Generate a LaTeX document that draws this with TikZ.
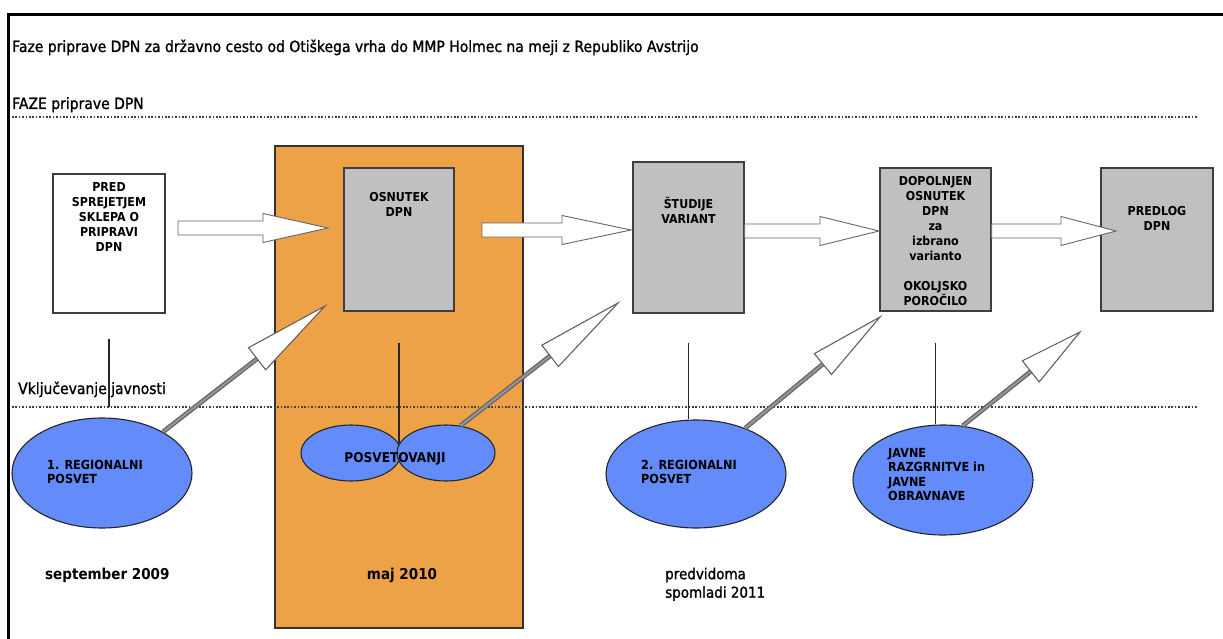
\documentclass[tikz,border=0pt]{standalone}
\usepackage{fontspec}
\setmainfont{DejaVu Sans}[FakeStretch=0.9]
\newfontfamily\mediumfont{DejaVu Sans}[FakeStretch=0.9, FakeBold=1.2]
\usetikzlibrary{calc,shapes.geometric}

\definecolor{phaseorange}{RGB}{238,162,72}
\definecolor{boxgray}{RGB}{192,192,192}
\definecolor{meetblue}{RGB}{99,139,250}
\definecolor{edgegray}{RGB}{62,62,62}

% fixed height for the first line of a label, so accents do not move it
\newcommand\firstline{\rule{0pt}{12pt}}

% horizontal block arrow: start, tip, head length
\newcommand\blockarrow[3]{%
  \draw[blockarr] let \p1=(#1), \p2=(#2) in
    (\x1,\y2+7pt) -- (\x2-#3,\y2+7pt) -- (\x2-#3,\y2+14.5pt) -- (\x2,\y2)
    -- (\x2-#3,\y2-14.5pt) -- (\x2-#3,\y2-7pt) -- (\x1,\y2-7pt) -- cycle;}

% slanted arrow: start, tip, head length, half width of head
\newcommand\diagarrow[4]{%
  \coordinate (hb) at ($(#2)!#3!(#1)$);
  \draw[shaftedge] (#1) -- (hb);
  \draw[shaftcore] (#1) -- (hb);
  \draw[diaghead] (#2) -- ($(hb)!#4!90:(#2)$) -- ($(hb)!#4!-90:(#2)$) -- cycle;}

\begin{document}
\begin{tikzpicture}[x=1pt,y=-1pt,
  phasebox/.style={rectangle, draw=edgegray, line width=1.4pt, fill=boxgray, inner sep=0pt},
  meet/.style={ellipse, draw=black!85, line width=1.1pt, fill=meetblue, inner sep=0pt},
  boxlabel/.style={font=\bfseries\fontsize{12.3}{15}\selectfont, align=center, inner sep=0pt, anchor=north},
  meetlabel/.style={font=\bfseries\fontsize{12.5}{14.5}\selectfont, align=left, inner sep=0pt, anchor=north west},
  datelabel/.style={font=\bfseries\fontsize{15}{18.5}\selectfont, inner sep=0pt},
  plainlabel/.style={font=\mediumfont\fontsize{15.5}{18}\selectfont, inner sep=0pt, anchor=base west},
  link/.style={draw=black!85, line width=1.1pt},
  sepline/.style={draw=black!75, line width=1.4pt, dash pattern=on 1.6pt off 1.8pt},
  blockarr/.style={draw=black!60, line width=0.9pt, fill=white, line join=miter},
  shaftedge/.style={draw=black!62, line width=4.6pt},
  shaftcore/.style={draw=black!42, line width=2.2pt},
  diaghead/.style={draw=black!62, line width=1.1pt, fill=white, line join=miter}]

\useasboundingbox (0,0) rectangle (1223,639);
\fill[white] (0,0) rectangle (1223,639);

% frame
\draw[line width=3pt, line join=miter] (1223,15) -- (8.5,15) -- (8.5,639);

% headings
\node[plainlabel] (title) at (12,52)
  {Faze priprave DPN za državno cesto od Otiškega vrha do MMP Holmec na meji z Republiko Avstrijo};
\node[plainlabel] (phases) at (12,109) {FAZE priprave DPN};
\node[plainlabel] (public) at (18,394) {Vključevanje javnosti};

% phase band of May 2010
\node[rectangle, draw=black!80, line width=1.2pt, fill=phaseorange,
      minimum width=248, minimum height=482, inner sep=0pt] (band) at (399,387) {};

% separators
\coordinate (sep1a) at (12,117);  \coordinate (sep1b) at (1198,117);
\coordinate (sep2a) at (12,407);  \coordinate (sep2b) at (1198,407);
\draw[sepline] (sep1a) -- (sep1b);
\draw[sepline] (sep2a) -- (sep2b);

% phase boxes
\node[phasebox, fill=white, minimum width=112, minimum height=139] (pred) at (109,243.5) {};
\node[phasebox, minimum width=110, minimum height=143] (osn) at (399,239.5) {};
\node[phasebox, minimum width=111, minimum height=151] (stud) at (688.5,237.5) {};
\node[phasebox, minimum width=111, minimum height=143] (dop) at (935.5,239.5) {};
\node[phasebox, minimum width=112, minimum height=143] (predl) at (1157,239.5) {};

% meetings
\node[meet, minimum width=180, minimum height=110] (e1) at (102,473) {};
\node[meet, minimum width=100, minimum height=56] (pl) at (351,453) {};
\node[meet, minimum width=98, minimum height=56] (pr) at (446,453) {};
\node[meet, minimum width=180, minimum height=108] (e2) at (696,474) {};
\node[meet, minimum width=180, minimum height=110] (e3) at (943,480) {};

% links from phases down to the public part
\coordinate (pj) at (399,443);
\draw[link] ([yshift=-25pt]pred.south) -- (pred.south |- sep2a);
\draw[link] ([yshift=-31pt]osn.south) -- (pj);
\draw[link] ([yshift=-29pt]stud.south) -- (stud.south |- e2.north);
\draw[link] ([yshift=-31pt]dop.south) -- (dop.south |- e3.north);

% flow between phases
\coordinate (a1s) at (178,228);  \coordinate (a1t) at (328,228);
\coordinate (a2s) at (482,230);  \coordinate (a2t) at (631,230);
\coordinate (a3t) at (879,231);
\coordinate (a4t) at (1116,231);
\blockarrow{a1s}{a1t}{65pt}
\blockarrow{a2s}{a2t}{69pt}
\blockarrow{stud.east |- a3t}{a3t}{59pt}
\blockarrow{dop.east |- a4t}{a4t}{55pt}

% input of the public
\coordinate (d1t) at (325,306);
\coordinate (d2t) at (618,303);
\coordinate (d3t) at (880,317);
\coordinate (d4t) at (1080,332);
\diagarrow{e1.34}{d1t}{86pt}{14pt}
\diagarrow{pr.62}{d2t}{86pt}{13.5pt}
\diagarrow{e2.43}{d3t}{74pt}{13.5pt}
\diagarrow{e3.70}{d4t}{63pt}{13.5pt}

% phase labels
\node[boxlabel] at ([yshift=-6pt]pred.north) {\firstline PRED\\SPREJETJEM\\SKLEPA O\\PRIPRAVI\\DPN};
\node[boxlabel] at ([yshift=-22pt]osn.north) {\firstline OSNUTEK\\DPN};
\node[boxlabel] at ([yshift=-35pt]stud.north) {\firstline ŠTUDIJE\\VARIANT};
\node[boxlabel] at ([yshift=-6pt]dop.north)
  {\firstline DOPOLNJEN\\OSNUTEK\\DPN\\za\\izbrano\\varianto\\[15pt]OKOLJSKO\\POROČILO};
\node[boxlabel] at ([yshift=-36pt]predl.north) {\firstline PREDLOG\\DPN};

% meeting labels
\node[meetlabel] at (47,457) {\firstline 1. REGIONALNI\\POSVET};
\node[font=\bfseries\fontsize{13.5}{16}\selectfont, inner sep=0pt, anchor=base] at (395,462) {POSVETOVANJI};
\node[meetlabel] at (641,457) {\firstline 2. REGIONALNI\\POSVET};
\node[meetlabel] at (888,445) {\firstline JAVNE\\RAZGRNITVE in\\JAVNE\\OBRAVNAVE};

% dates
\node[datelabel, anchor=base west] at (45,579) {september 2009};
\node[datelabel, anchor=base] at (402,579) {maj 2010};
\node[font=\mediumfont\fontsize{15}{18.5}\selectfont, inner sep=0pt, anchor=north west, align=left]
  at (665,567) {\firstline predvidoma\\spomladi 2011};
\end{tikzpicture}
\end{document}
